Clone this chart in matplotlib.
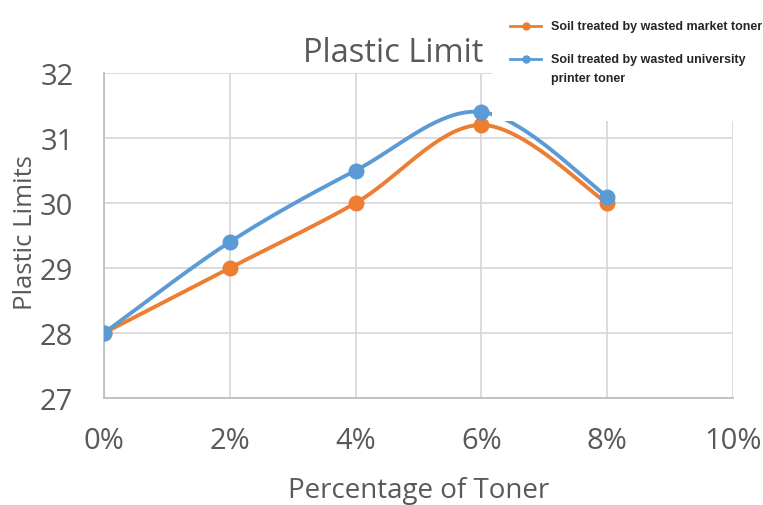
import numpy as np
import matplotlib.pyplot as plt
from matplotlib.lines import Line2D
from matplotlib.patches import Rectangle

# toner content (%) and plastic limits
toner = [0, 2, 4, 6, 8]
market = [28.0, 29.0, 30.0, 31.2, 30.0]
university = [28.0, 29.4, 30.5, 31.4, 30.1]

xticks = [0, 2, 4, 6, 8, 10]
xticklabels = ['0%', '2%', '4%', '6%', '8%', '10%']
yticks = [27, 28, 29, 30, 31, 32]

grey = '#595959'
orange = '#ED7D31'
blue = '#5B9BD5'

plt.rcParams['font.family'] = ['Open Sans', 'DejaVu Sans']


def smooth(xs, ys, n=40):
    # bezier spline through the points, like a spreadsheet "smoothed line"
    p = np.column_stack([xs, ys]).astype(float)
    ext = np.vstack([p[0], p, p[-1]])
    out = []
    for i in range(len(p) - 1):
        p0, p3 = p[i], p[i + 1]
        p1 = p0 + (ext[i + 2] - ext[i]) / 6
        p2 = p3 - (ext[i + 3] - ext[i + 1]) / 6
        t = np.linspace(0, 1, n)[:, None]
        seg = (1 - t) ** 3 * p0 + 3 * (1 - t) ** 2 * t * p1 + 3 * (1 - t) * t ** 2 * p2 + t ** 3 * p3
        out.append(seg)
    c = np.vstack(out)
    return c[:, 0], c[:, 1]


fig = plt.figure(figsize=(7.63, 5.06), dpi=100)
ax = fig.add_axes([104 / 763, 1 - 399 / 506, (733 - 104) / 763, (399 - 74) / 506])

for ys, col in [(market, orange), (university, blue)]:
    sx, sy = smooth(toner, ys)
    ax.plot(sx, sy, color=col, lw=2.8, solid_capstyle='round', zorder=3)
    ax.plot(toner, ys, 'o', color=col, ms=10.5, zorder=4)

ax.set_xlim(0, 10)
ax.set_ylim(27, 32)
ax.set_xticks(xticks)
ax.set_xticklabels(xticklabels)
ax.set_yticks(yticks)
ax.grid(True, color='#d9d9d9', lw=1.3)
ax.set_axisbelow(True)
for s in ['top', 'right']:
    ax.spines[s].set_visible(False)
for s in ['left', 'bottom']:
    ax.spines[s].set_color('#bfbfbf')
    ax.spines[s].set_linewidth(1.3)
ax.tick_params(length=0, labelsize=21, labelcolor=grey)
ax.tick_params(axis='y', pad=22)
ax.tick_params(axis='x', pad=20)

fig.text(393 / 763, 1 - 62 / 506, 'Plastic Limit', ha='center', va='baseline', fontsize=23.5, color=grey)
fig.text(418.5 / 763, 1 - 498 / 506, 'Percentage of Toner', ha='center', va='baseline', fontsize=20, color=grey)
fig.text(26 / 763, 1 - 232.5 / 506, 'Plastic Limits', ha='center', va='center', rotation=90, fontsize=18.5, color=grey)

# legend panel pasted over the top right corner
fig.add_artist(Rectangle((492 / 763, 1 - 122 / 506), 1, 1, transform=fig.transFigure,
                         facecolor='white', edgecolor='none', zorder=5))
leg_font = ['Liberation Sans Narrow', 'Liberation Sans', 'DejaVu Sans']
entries = [(orange, 27, ['Soil treated by wasted market toner']),
           (blue, 60, ['Soil treated by wasted university', 'printer toner'])]
for col, py, lines in entries:
    y = 1 - py / 506
    fig.add_artist(Line2D([510 / 763, 541 / 763], [y, y], transform=fig.transFigure,
                          color=col, lw=2, zorder=6))
    fig.add_artist(Line2D([525.5 / 763], [y], transform=fig.transFigure, marker='o',
                          ms=5, color=col, zorder=6))
    for k, txt in enumerate(lines):
        fig.text(551 / 763, 1 - (py + 19 * k) / 506, txt, ha='left', va='center',
                 fontsize=9, fontweight='bold', color='#262626', family=leg_font, zorder=6)

fig.savefig('out.png', dpi=100)
